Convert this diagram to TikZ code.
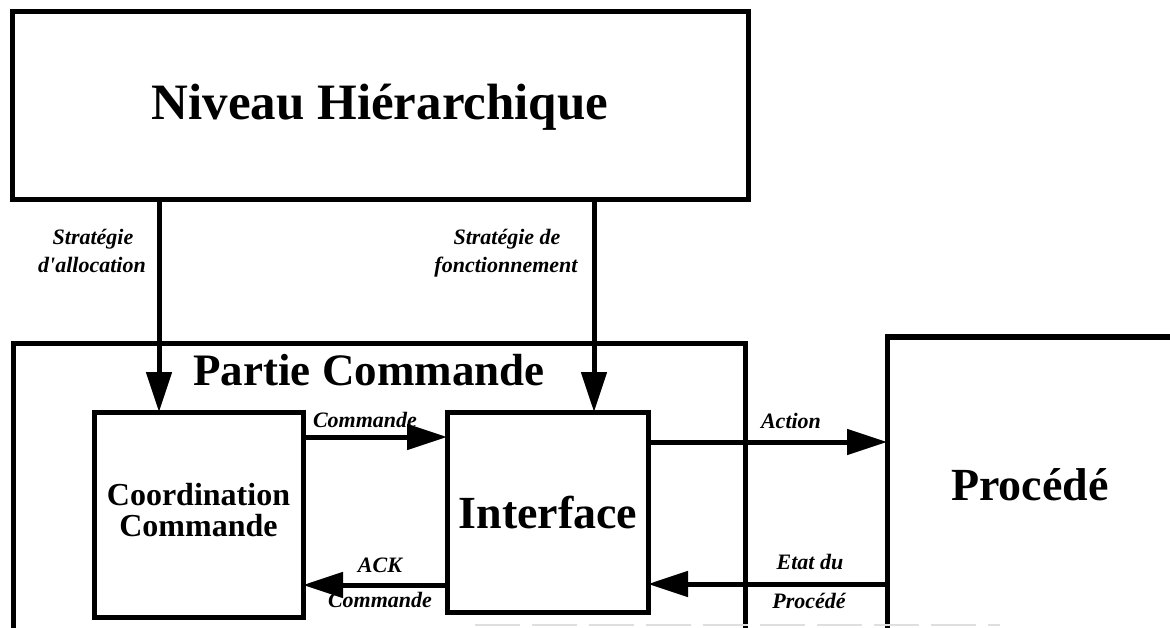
\documentclass[tikz,border=0pt]{standalone}
\usepackage{fontspec}
\setmainfont{Liberation Serif}[Ligatures=TeXOff]
\usetikzlibrary{arrows.meta}
\begin{document}
\begin{tikzpicture}[x=1pt,y=-1pt,
  box/.style={draw, line width=5pt, outer sep=0pt, inner sep=0pt, line join=miter},
  arr/.style={line width=5pt, -{Triangle[length=40pt,width=25pt]}},
  bigtitle/.style={font=\bfseries\fontsize{51}{60}\selectfont, anchor=base, inner sep=0pt},
  title/.style={font=\bfseries\fontsize{46}{54}\selectfont, anchor=base, inner sep=0pt},
  midtitle/.style={font=\bfseries\fontsize{32}{32}\selectfont, anchor=base, inner sep=0pt},
  lab/.style={font=\bfseries\itshape\fontsize{22}{28}\selectfont, anchor=base, inner sep=0pt}
]
\useasboundingbox (0,0) rectangle (1170,628);
\clip (0,0) rectangle (1170,628);

% boxes (the lower ones run past the bottom edge)
\node[box, minimum width=736pt, minimum height=188pt] (niv) at (380,106) {};
\node[box, minimum width=732pt, minimum height=357pt] (pc) at (379,521.5) {};
\node[box, minimum width=209pt, minimum height=205pt] (coord) at (198.5,514.5) {};
\node[box, minimum width=201pt, minimum height=200pt] (iface) at (547.5,512) {};
\node[box, minimum width=373pt, minimum height=363pt] (proc) at (1073.5,518.5) {};

% titles
\node[bigtitle] (tniv) at (380,120) {Niveau Hiérarchique};
\node[title, font=\bfseries\fontsize{45}{54}\selectfont] (tpc) at (369,385) {Partie Commande};
\node[title] (tiface) at (548,528) {Interface};
\node[title] (tproc) at (1030,500) {Procédé};
\node[midtitle] (tcoorda) at (198.5,505) {Coordination};
\node[midtitle] (tcoordb) at (198.5,536) {Commande};

% reference points for the connectors
\coordinate (s1) at (159,0);
\coordinate (s2) at (594,0);
\coordinate (ycmd) at (0,437);
\coordinate (yact) at (0,442);
\coordinate (yetat) at (0,584);
\coordinate (yack) at (0,585);

% connectors
\draw[arr] (niv.south -| s1) -- (coord.north -| s1);
\draw[arr] (niv.south -| s2) -- (iface.north -| s2);
\draw[arr] (coord.east |- ycmd) -- (iface.west |- ycmd);
\draw[arr] (iface.east |- yact) -- (proc.west |- yact);
\draw[arr] (proc.west |- yetat) -- (iface.east |- yetat);
\draw[arr] (iface.west |- yack) -- (coord.east |- yack);

% connector labels
\node[lab] (l1a) at (93,245) {Stratégie};
\node[lab] (l1b) at (92,273) {d'allocation};
\node[lab] (l2a) at (507,245) {Stratégie de};
\node[lab] (l2b) at (506,273) {fonctionnement};
\node[lab] (lcmd) at (365,427) {Commande};
\node[lab] (lact) at (791,428) {Action};
\node[lab] (letat) at (810,569) {Etat du};
\node[lab] (lproc) at (809,608) {Procédé};
\node[lab] (lack) at (380,572) {ACK};
\node[lab] (lcmdb) at (380,607) {Commande};

% faint trace along the bottom edge
\draw[gray!25, line width=2pt, dash pattern=on 45pt off 12pt] (475,625) -- (1000,625);
\end{tikzpicture}
\end{document}
